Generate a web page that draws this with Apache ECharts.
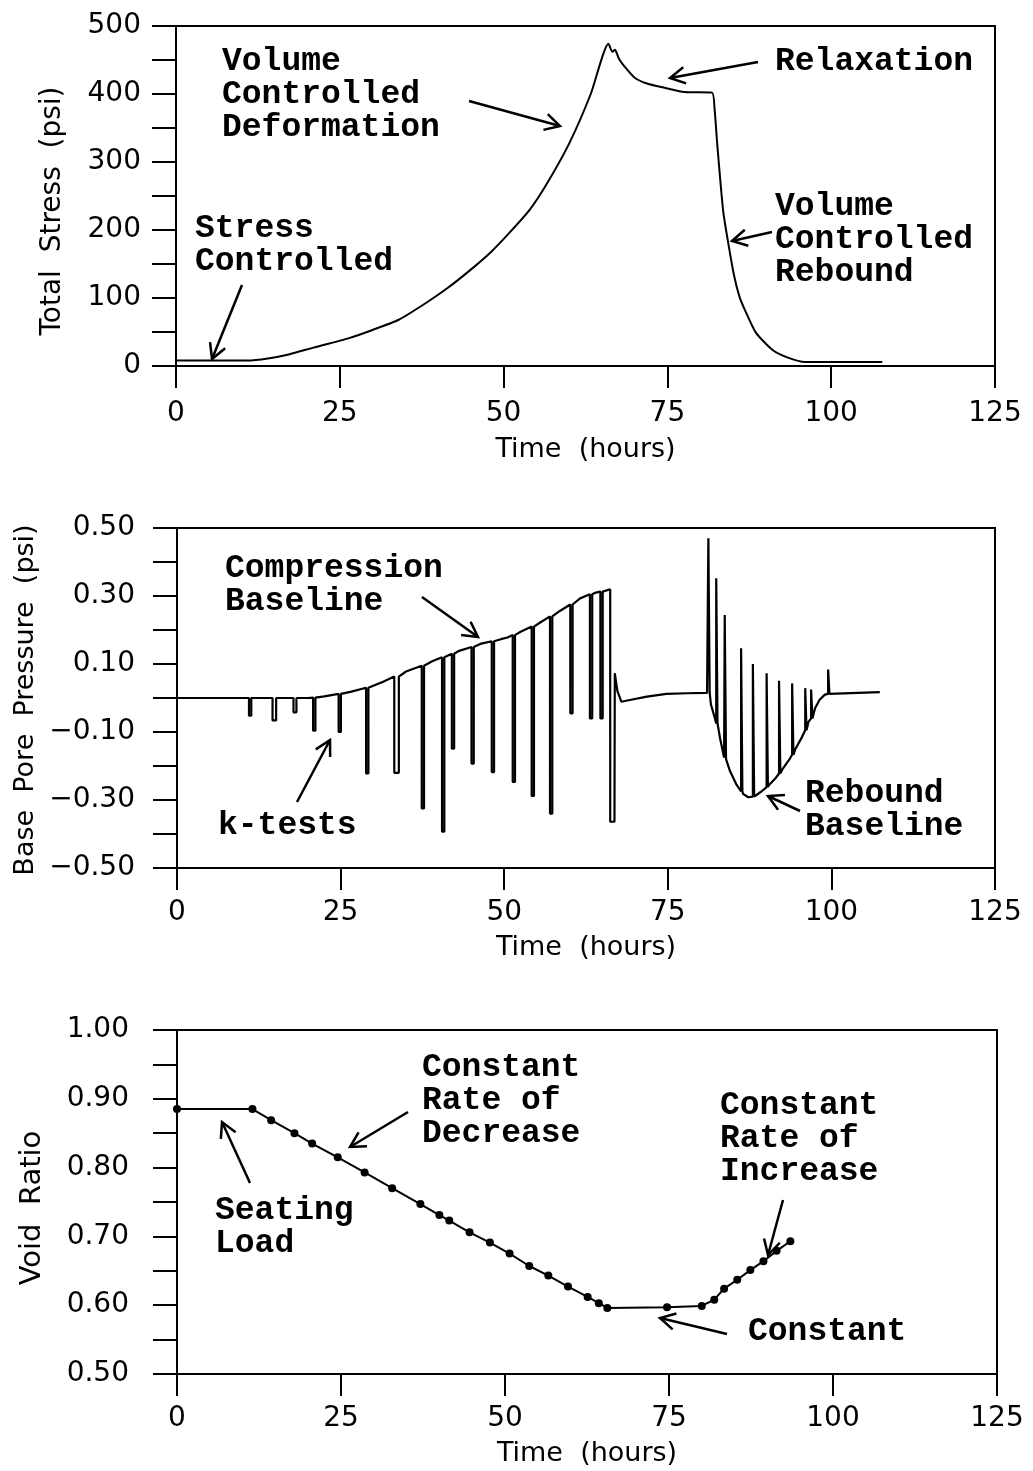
<!DOCTYPE html>
<html>
<head>
<meta charset="utf-8">
<title>Consolidation test history</title>
<script src="https://cdn.jsdelivr.net/npm/echarts@6/dist/echarts.min.js"></script>
<style>
  html, body { margin: 0; padding: 0; background: #fff; }
  #chart { width: 1033px; height: 1471px; }
</style>
</head>
<body>
<div id="chart"></div>
<script>
// ---- total stress (top panel) ----
var stressTime = [0, 5, 10.9, 14, 17.2, 21, 26.4, 30, 34, 38.2, 41.5, 44.9, 48, 50.8, 54, 56.6, 60, 63.3, 66, 66.6, 67, 67.6, 68.5, 70, 72, 74.2, 77.6, 81.8, 82.2, 82.6, 83.5, 84.3, 85.2, 86, 86.8, 88.5, 91, 93.5, 96, 100, 107.8];
var stressPsi = [8, 8, 8, 11, 17, 27, 41, 53, 68, 93, 115, 141, 167, 195, 230, 268, 327, 400, 474, 462, 465, 452, 440, 424, 415, 410, 403, 402, 378, 327, 229, 180, 132, 102, 83, 49, 24, 12, 6, 6, 6];

// ---- base pore pressure (middle panel) ----
// baseline trace (compression, unloading drop, rebound)
var poreTime = [0, 10, 20, 22.5, 26.5, 29.5, 31.5, 35, 39, 43, 46.5, 49.5, 50.5, 52.5, 55.5, 58.5, 61.6, 64, 66.2, 66.2, 66.85, 66.9, 67.3, 67.9, 69.2, 71.8, 74.8, 78, 81.0,
  81.6, 82.2, 83.0, 83.6, 84.5, 85.5, 86.5, 87.3, 88.4, 89.3, 90.5, 91.5, 92.5, 93.5, 94.5, 95.5, 96.5, 97.5, 98.2, 99, 100, 104, 107.4];
var porePsi = [0, 0, 0, 0.005, 0.018, 0.033, 0.048, 0.078, 0.108, 0.138, 0.16, 0.173, 0.178, 0.195, 0.222, 0.256, 0.293, 0.31, 0.32, -0.364, -0.364, 0.073, 0.02, -0.011, -0.006, 0.004, 0.012, 0.014, 0.015,
  -0.02, -0.06, -0.12, -0.175, -0.215, -0.255, -0.282, -0.292, -0.285, -0.275, -0.255, -0.235, -0.21, -0.183, -0.15, -0.115, -0.07, -0.03, -0.005, 0.01, 0.013, 0.015, 0.017];
// k-tests: start time, baseline value, spike tip, spike width (hours)
var kTime  = [11.0, 14.6, 17.8, 20.8, 24.7, 28.9, 33.2, 37.4, 40.5, 42.0, 45.0, 48.1, 51.3, 54.2, 57.0, 60.1, 63.1, 64.7,
  81.2, 82.4, 83.7, 86.2, 88.0, 90.1, 92.0, 94.0, 96.0, 96.9, 99.5];
var kBase  = [0, 0, 0, 0.001, 0.012, 0.03, 0.063, 0.095, 0.12, 0.13, 0.15, 0.167, 0.185, 0.21, 0.24, 0.275, 0.305, 0.313,
  0.015, -0.075, -0.18, -0.275, -0.29, -0.262, -0.222, -0.167, -0.095, -0.06, 0.012];
var kTip   = [-0.052, -0.066, -0.042, -0.096, -0.10, -0.222, -0.22, -0.325, -0.393, -0.149, -0.193, -0.218, -0.247, -0.288, -0.34, -0.045, -0.06, -0.06,
  0.47, 0.352, 0.244, 0.146, 0.10, 0.073, 0.051, 0.043, 0.029, 0.025, 0.084];
var kWidth = [0.35, 0.55, 0.45, 0.35, 0.35, 0.35, 0.7, 0.35, 0.35, 0.35, 0.35, 0.35, 0.35, 0.35, 0.35, 0.35, 0.35, 0.35,
  0.2, 0.2, 0.2, 0.2, 0.2, 0.2, 0.2, 0.2, 0.2, 0.2, 0.2];

// ---- void ratio (bottom panel) ----
var voidTime = [0, 11.5, 14.35, 17.9, 20.6, 24.5, 28.6, 32.8, 37.1, 40.0, 41.5, 44.6, 47.7, 50.7, 53.7, 56.6, 59.6, 62.6, 64.3, 65.6, 74.7, 80.0, 81.9, 83.4, 85.4, 87.4, 89.4, 91.4, 93.5];
var voidRatio = [0.885, 0.885, 0.869, 0.850, 0.835, 0.815, 0.793, 0.770, 0.747, 0.731, 0.723, 0.706, 0.691, 0.675, 0.657, 0.643, 0.627, 0.612, 0.603, 0.596, 0.597, 0.599, 0.608, 0.624, 0.637, 0.651, 0.664, 0.679, 0.693];

var timeTicks = [0, 25, 50, 75, 100, 125];

function zip(a, b) {
  return a.map(function (v, i) { return [v, b[i]]; });
}

// merge baseline with k-test spikes, in time order
function poreTrace() {
  var items = [];
  poreTime.forEach(function (t, i) {
    items.push({ k: t, pts: [[t, porePsi[i]]] });
  });
  kTime.forEach(function (t, i) {
    var w = kWidth[i];
    items.push({ k: t, pts: [[t, kBase[i]], [t, kTip[i]], [t + w, kTip[i]], [t + w, kBase[i]]] });
  });
  items.sort(function (a, b) { return a.k - b.k; });
  var out = [];
  items.forEach(function (it) { out = out.concat(it.pts); });
  return out;
}

var labelFont = { color: '#000', fontFamily: 'DejaVu Sans', fontSize: 28 };
var noteFont = '"Liberation Mono", monospace';

function timeAxis(idx, margin, gap) {
  return {
    type: 'value', gridIndex: idx, min: timeTicks[0], max: timeTicks[timeTicks.length - 1], interval: 25,
    name: 'Time  (hours)', nameLocation: 'middle', nameGap: gap,
    nameTextStyle: { color: '#000', fontFamily: 'DejaVu Sans', fontSize: 27 },
    axisLine: { onZero: false, lineStyle: { color: '#000', width: 2 } },
    axisTick: { inside: false, length: 22, lineStyle: { color: '#000', width: 2 } },
    axisLabel: Object.assign({ margin: margin }, labelFont),
    splitLine: { show: false }
  };
}

function valueAxis(idx, min, max, step, margin, fmt) {
  return {
    type: 'value', gridIndex: idx, min: min, max: max, interval: step,
    axisLine: { show: true, onZero: false, lineStyle: { color: '#000', width: 2 } },
    axisTick: { show: true, inside: false, length: 24, lineStyle: { color: '#000', width: 2 } },
    axisLabel: Object.assign({ margin: margin, formatter: fmt }, labelFont),
    splitLine: { show: false }
  };
}

function note(x, y, text) {
  return {
    type: 'text', x: x, y: y, silent: true,
    style: { text: text, fill: '#000', fontFamily: noteFont, fontSize: 33, fontWeight: 'bold', lineHeight: 33, verticalAlign: 'top' }
  };
}

function arrow(x1, y1, x2, y2) {
  var a = Math.atan2(y2 - y1, x2 - x1), h = 17, s = 0.5;
  var st = { stroke: '#000', lineWidth: 2.5, fill: null };
  return {
    type: 'group', silent: true,
    children: [
      { type: 'line', shape: { x1: x1, y1: y1, x2: x2, y2: y2 }, style: st },
      { type: 'polyline', shape: { points: [
        [x2 - h * Math.cos(a - s), y2 - h * Math.sin(a - s)], [x2, y2],
        [x2 - h * Math.cos(a + s), y2 - h * Math.sin(a + s)]] }, style: st }
    ]
  };
}

function yTitle(x, y, text, size) {
  return {
    type: 'text', x: x, y: y, rotation: Math.PI / 2, silent: true,
    style: { text: text, fill: '#000', fontFamily: 'DejaVu Sans', fontSize: size, align: 'center', verticalAlign: 'middle' }
  };
}

var chart = echarts.init(document.getElementById('chart'), null, { renderer: 'canvas' });
var lineStyle = { color: '#000', width: 2 };

chart.setOption({
  animation: false,
  backgroundColor: '#fff',
  grid: [
    { left: 176, top: 26, width: 819, height: 340, show: true, borderColor: '#000', borderWidth: 2 },
    { left: 177, top: 528, width: 818, height: 340, show: true, borderColor: '#000', borderWidth: 2 },
    { left: 177, top: 1030, width: 820, height: 344, show: true, borderColor: '#000', borderWidth: 2 }
  ],
  xAxis: [timeAxis(0, 34, 70), timeAxis(1, 31, 66), timeAxis(2, 31, 66)],
  yAxis: [
    valueAxis(0, 0, 500, 50, 35, function (v) { return v % 100 === 0 ? String(v) : ''; }),
    valueAxis(1, -0.5, 0.5, 0.1, 42, function (v) {
      var k = Math.round(v * 10);
      return Math.abs(k) % 2 === 1 ? (k < 0 ? '\u2212' : '') + Math.abs(v).toFixed(2) : '';
    }),
    valueAxis(2, 0.5, 1.0, 0.05, 48, function (v) {
      return Math.round(v * 100) % 10 === 0 ? v.toFixed(2) : '';
    })
  ],
  series: [
    { type: 'line', xAxisIndex: 0, yAxisIndex: 0, data: zip(stressTime, stressPsi), showSymbol: false,
      smooth: 0.2, lineStyle: lineStyle },
    { type: 'line', xAxisIndex: 1, yAxisIndex: 1, data: poreTrace(), showSymbol: false,
      lineStyle: { color: '#000', width: 2.2 } },
    { type: 'line', xAxisIndex: 2, yAxisIndex: 2, data: zip(voidTime, voidRatio), symbol: 'circle', symbolSize: 8,
      itemStyle: { color: '#000' }, lineStyle: lineStyle }
  ],
  graphic: [
    yTitle(53, 211, 'Total  Stress  (psi)', 28),
    yTitle(26, 700, 'Base  Pore  Pressure  (psi)', 27),
    yTitle(32, 1208, 'Void  Ratio', 29),

    note(222, 45, 'Volume\nControlled\nDeformation'),
    arrow(469, 101, 560, 126),
    note(775, 45, 'Relaxation'),
    arrow(758, 62, 670, 78),
    note(775, 190, 'Volume\nControlled\nRebound'),
    arrow(772, 232, 732, 241),
    note(195, 212, 'Stress\nControlled'),
    arrow(242, 285, 212, 359),

    note(225, 552, 'Compression\nBaseline'),
    arrow(422, 597, 478, 637),
    note(218, 809, 'k-tests'),
    arrow(297, 802, 330, 740),
    note(805, 777, 'Rebound\nBaseline'),
    arrow(800, 811, 768, 796),

    note(422, 1051, 'Constant\nRate of\nDecrease'),
    arrow(408, 1112, 350, 1147),
    note(215, 1194, 'Seating\nLoad'),
    arrow(250, 1183, 222, 1122),
    note(720, 1089, 'Constant\nRate of\nIncrease'),
    arrow(783, 1200, 768, 1255),
    note(748, 1315, 'Constant'),
    arrow(727, 1334, 660, 1318)
  ]
});
</script>
</body>
</html>
